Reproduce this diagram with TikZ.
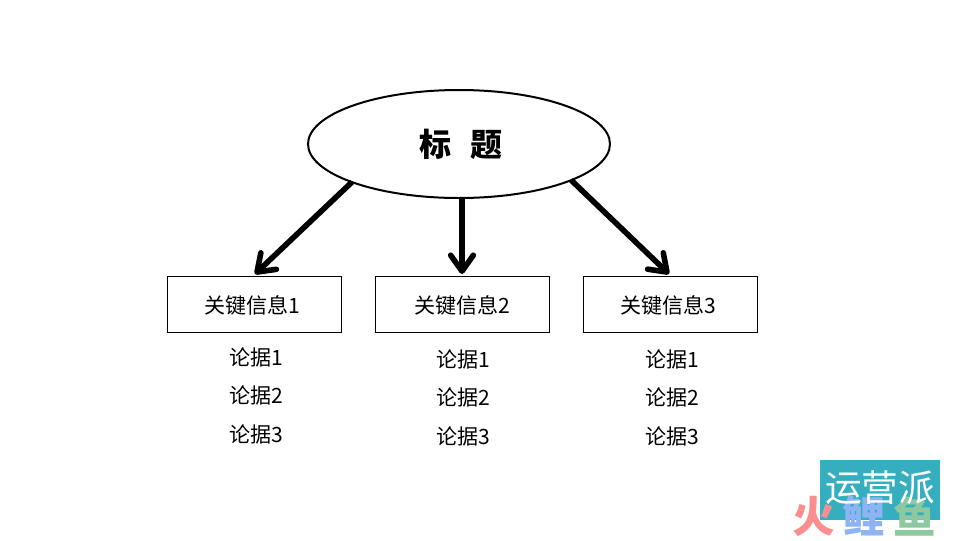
\documentclass[tikz,border=0pt]{standalone}
\usepackage{fontspec}
\setmainfont{Noto Sans CJK SC}
\usetikzlibrary{arrows.meta,shapes.geometric}
\definecolor{logoteal}{HTML}{35AFC0}
\definecolor{logored}{HTML}{FB8E8E}
\definecolor{logoblue}{HTML}{8FB4F5}
\definecolor{logogreen}{HTML}{8CC8A0}
\tikzset{
  px/.style={x=0.75pt,y=-0.75pt},
  titleell/.style={ellipse,draw=black,line width=1.5pt,minimum width=226.5pt,minimum height=81pt,inner sep=0pt},
  keybox/.style={draw=black,line width=0.75pt,minimum width=130.5pt,minimum height=42pt,inner sep=0pt},
  keytext/.style={inner sep=0pt,font=\fontsize{15.8pt}{18pt}\selectfont},
  proof/.style={inner sep=0pt,font=\fontsize{15.8pt}{18pt}\selectfont},
  bigarrow/.style={line width=4.2pt,-{Straight Barb[length=12pt,width=17pt,line width=4.2pt,round]}},
}
\begin{document}
\begin{tikzpicture}[px]
\useasboundingbox (0,0) rectangle (960,540);
\node[titleell] (title) at (459,144) {};
\node[font=\fontsize{24pt}{28pt}\selectfont\bfseries] (titletext) at (461,144) {标\hspace{0.6em}题};
\node[keybox] (k1) at (254.5,304.5) {};
\node[keybox] (k2) at (462.5,304.5) {};
\node[keybox] (k3) at (670.5,304.5) {};
\node[keytext] (k1t) at (252.5,305) {关键信息1};
\node[keytext] (k2t) at (462.5,305) {关键信息2};
\node[keytext] (k3t) at (668.5,305) {关键信息3};
\node[proof] (a1) at (256,357.5) {论据1};
\node[proof] (a2) at (256,395.5) {论据2};
\node[proof] (a3) at (256,434.5) {论据3};
\node[proof] (b1) at (463,359.5) {论据1};
\node[proof] (b2) at (463,397.5) {论据2};
\node[proof] (b3) at (463,436.5) {论据3};
\node[proof] (c1) at (672,359.5) {论据1};
\node[proof] (c2) at (672,397.5) {论据2};
\node[proof] (c3) at (672,436.5) {论据3};
\coordinate (s1) at (352,182);
\coordinate (s2) at (462,198);
\coordinate (s3) at (571,180);
\coordinate (e1) at (255,274);
\coordinate (e2) at (462,274);
\coordinate (e3) at (669,274);
\draw[bigarrow] (s1) -- (e1);
\draw[bigarrow] (s2) -- (e2);
\draw[bigarrow] (s3) -- (e3);
\node[fill=logoteal,minimum width=90pt,minimum height=45pt,inner sep=0pt] (logo) at (880,490) {};
\node[inner sep=0pt,text=logored,font=\fontsize{32pt}{36pt}\selectfont\bfseries] (huo) at (814,516) {火};
\node[inner sep=0pt,text=logoblue,font=\fontsize{32pt}{36pt}\selectfont\bfseries] (li) at (864,516) {鲤};
\node[inner sep=0pt,text=logogreen,font=\fontsize{32pt}{36pt}\selectfont\bfseries] (yu) at (915,516) {鱼};
\node[inner sep=0pt,text=white,font=\fontsize{27.5pt}{30pt}\selectfont] (logotext) at (880,488) {运营派};
\end{tikzpicture}
\end{document}
